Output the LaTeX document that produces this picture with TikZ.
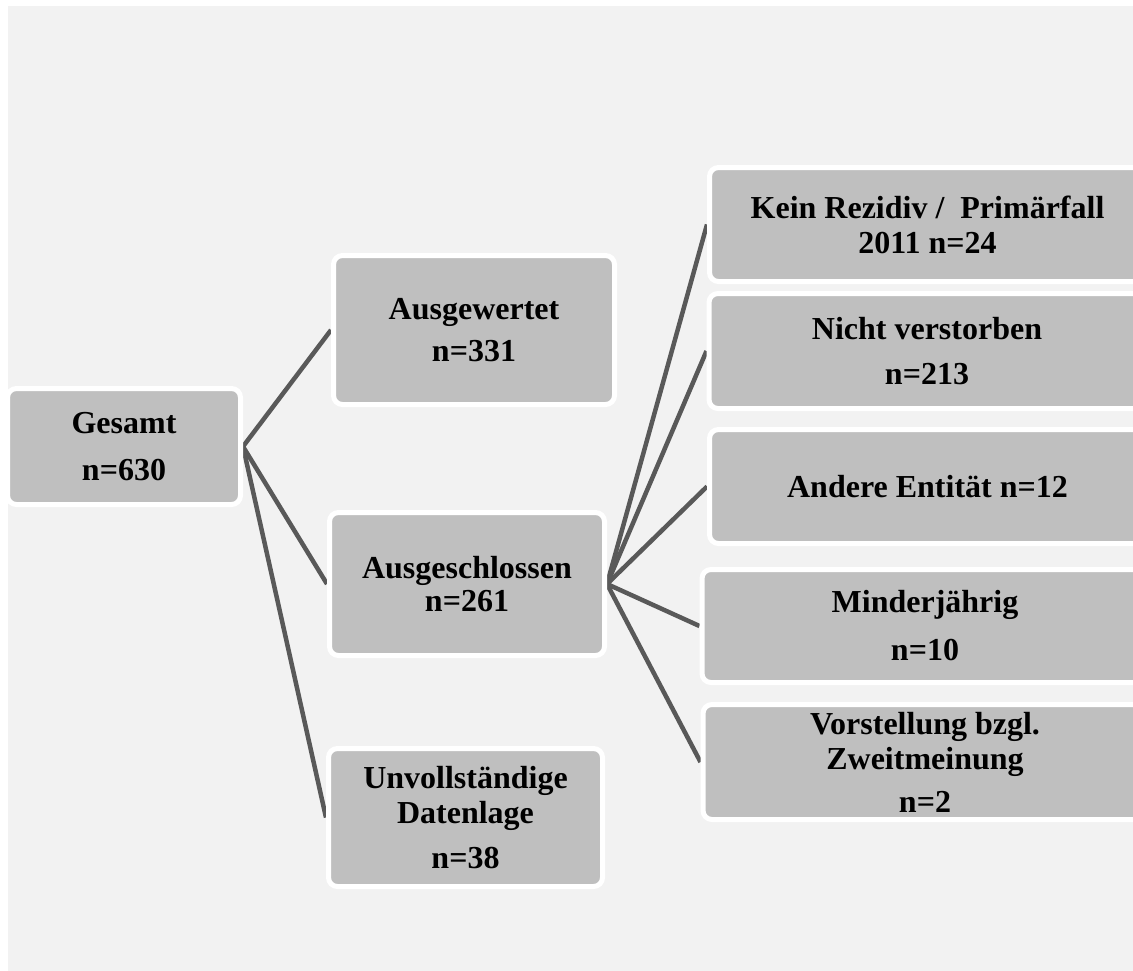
\documentclass[tikz,border=0pt]{standalone}
\usepackage{fontspec}
\setmainfont{Liberation Serif}
\usetikzlibrary{backgrounds}
\definecolor{bgc}{HTML}{F2F2F2}
\definecolor{boxc}{HTML}{BFBFBF}
\definecolor{linec}{HTML}{595959}
\tikzset{
  box/.style={draw=white, line width=5pt, fill=boxc, rounded corners=9pt,
    align=center, inner sep=0pt, font=\fontsize{32}{35}\selectfont\bfseries},
  conn/.style={draw=linec, line width=4.5pt}
}
\begin{document}
\begin{tikzpicture}[x=1pt,y=-1pt]
\useasboundingbox (0,0) rectangle (1133,970);
\clip (0,0) rectangle (1133,970);
% nodes
\node[box, minimum width=233pt, minimum height=116pt] (ges) at (124,446.5) {Gesamt\\[12pt]n=630};
\node[box, minimum width=281pt, minimum height=149pt] (ausw) at (474,330) {Ausgewertet\\[7pt]n=331};
\node[box, minimum width=275pt, minimum height=143pt] (ausg) at (467,584) {Ausgeschlossen\\[-2pt]n=261};
\node[box, minimum width=274pt, minimum height=138pt] (unv) at (465.5,817.5) {Unvollständige\\Datenlage\\[10pt]n=38};
\node[box, minimum width=436pt, minimum height=114pt] (kein) at (927.5,224.5) {Kein Rezidiv /\ \ Primärfall\\2011 n=24};
\node[box, minimum width=436pt, minimum height=115pt] (nicht) at (927,351) {Nicht verstorben\\[10pt]n=213};
\node[box, minimum width=436pt, minimum height=114pt] (and) at (927.5,486.5) {Andere Entität n=12};
\node[box, minimum width=446pt, minimum height=113pt] (mind) at (925,626) {Minderjährig\\[13pt]n=10};
\node[box, minimum width=444pt, minimum height=115pt] (vor) at (925,762) {Vorstellung bzgl.\\Zweitmeinung\\[8pt]n=2};
\begin{pgfonlayer}{background}
  \fill[white] (-5,-5) rectangle (1140,980);
  \fill[bgc] (8,6) rectangle (1140,980);
  \draw[conn] (ges.east) -- (ausw.west);
  \draw[conn] (ges.east) -- (ausg.west);
  \draw[conn] (ges.east) -- (unv.west);
  \draw[conn] (ausg.east) -- (kein.west);
  \draw[conn] (ausg.east) -- (nicht.west);
  \draw[conn] (ausg.east) -- (and.west);
  \draw[conn] (ausg.east) -- (mind.west);
  \draw[conn] (ausg.east) -- (vor.west);
\end{pgfonlayer}
\end{tikzpicture}
\end{document}
